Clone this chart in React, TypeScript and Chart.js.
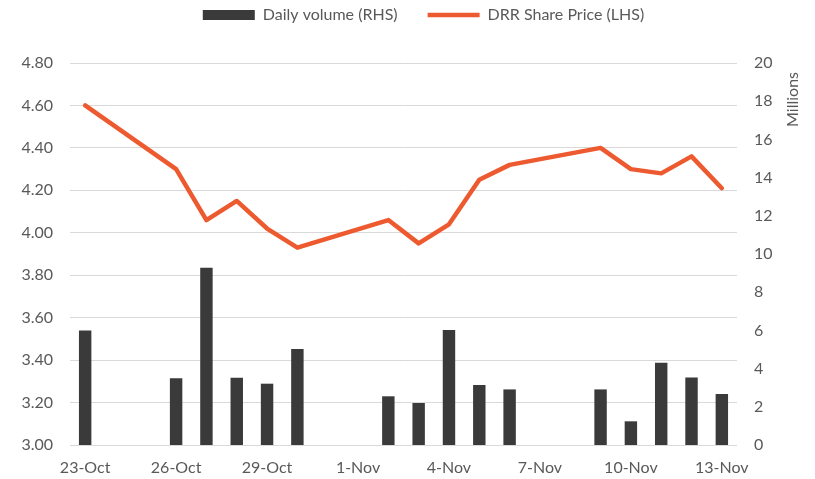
import React, { useEffect, useRef } from "react";
import { Chart, registerables } from "chart.js";

Chart.register(...registerables);

const dates = [
  "23-Oct", "24-Oct", "25-Oct", "26-Oct", "27-Oct", "28-Oct", "29-Oct", "30-Oct", "31-Oct",
  "1-Nov", "2-Nov", "3-Nov", "4-Nov", "5-Nov", "6-Nov", "7-Nov", "8-Nov", "9-Nov",
  "10-Nov", "11-Nov", "12-Nov", "13-Nov",
];
const xTickLabels = ["23-Oct", "26-Oct", "29-Oct", "1-Nov", "4-Nov", "7-Nov", "10-Nov", "13-Nov"];
const dailyVolume = [
  6.0, null, null, 3.49, 9.28, 3.52, 3.21, 5.03, null, null, 2.55, 2.2, 6.02, 3.14, 2.91,
  null, null, 2.91, 1.24, 4.31, 3.54, 2.67,
];
const sharePrice = [
  4.6, null, null, 4.3, 4.06, 4.15, 4.02, 3.93, null, null, 4.06, 3.95, 4.04, 4.25, 4.32,
  null, null, 4.4, 4.3, 4.28, 4.36, 4.21,
];
const rightAxisTitle = "Millions";

const GRAY = "#595959";
const FONT = "Lato, 'Open Sans', sans-serif";

export default function App() {
  const ref = useRef<HTMLCanvasElement>(null);
  useEffect(() => {
    document.body.style.margin = "0";
    const layoutPlugin = {
      id: "layoutTweaks",
      afterInit(chart: any) {
        const lg = chart.legend;
        if (lg) {
          const origFit = lg.fit.bind(lg);
          lg.fit = function () {
            origFit();
            this.height = 63;
          };
        }
      },
      afterLayout(chart: any) {
        const lg = chart.legend;
        if (lg) {
          const dx = 16;
          const dy = -23;
          lg.left += dx;
          lg.right += dx;
          lg.top += dy;
          lg.bottom += dy;
        }
      },
      afterDraw(chart: any) {
        const s = chart.scales.y1;
        const ctx = chart.ctx;
        ctx.save();
        ctx.fillStyle = GRAY;
        ctx.font = `16px ${FONT}`;
        ctx.translate(793, s.top + 9);
        ctx.rotate(-Math.PI / 2);
        ctx.textAlign = "right";
        ctx.textBaseline = "middle";
        ctx.fillText(rightAxisTitle, 0, 0);
        ctx.restore();
      },
    };
    const chart = new Chart(ref.current!, {
      type: "bar",
      data: {
        labels: dates,
        datasets: [
          {
            type: "line",
            label: "DRR Share Price (LHS)",
            data: sharePrice,
            yAxisID: "y",
            borderColor: "#EE5A30",
            backgroundColor: "#EE5A30",
            borderWidth: 4.5,
            borderCapStyle: "round",
            borderJoinStyle: "round",
            pointRadius: 0,
            pointStyle: "line",
            spanGaps: true,
            tension: 0,
            order: 0,
          } as any,
          {
            type: "bar",
            label: "Daily volume (RHS)",
            data: dailyVolume,
            yAxisID: "y1",
            backgroundColor: "#3A3A3A",
            borderWidth: 0,
            barPercentage: 0.41,
            categoryPercentage: 1.0,
            pointStyle: "rect",
            order: 1,
          } as any,
        ],
      },
      options: {
        animation: false,
        responsive: false,
        layout: { padding: { top: 0, left: 0, right: 0, bottom: 0 } },
        plugins: {
          tooltip: { enabled: false },
          legend: {
            position: "top",
            reverse: true,
            labels: {
              usePointStyle: true,
              pointStyleWidth: 52,
              boxHeight: 10,
              color: GRAY,
              padding: 30,
              font: { family: FONT, size: 16 },
            },
          },
        },
        scales: {
          x: {
            grid: { display: false, drawTicks: false },
            border: { display: false },
            ticks: {
              autoSkip: false,
              maxRotation: 0,
              padding: 13,
              color: GRAY,
              font: { family: FONT, size: 16 },
              callback: (_v: any, i: number) => (xTickLabels.includes(dates[i]) ? dates[i] : ""),
            },
            afterFit: (s: any) => { s.height = 34; },
          },
          y: {
            position: "left",
            min: 3.0,
            max: 4.8,
            grid: { color: "#D9D9D9", lineWidth: 1, drawTicks: false },
            border: { display: false },
            ticks: {
              stepSize: 0.2,
              padding: 17,
              color: GRAY,
              font: { family: FONT, size: 16 },
              callback: (v: any) => Number(v).toFixed(2),
            },
            afterFit: (s: any) => { s.width = 70; },
          },
          y1: {
            position: "right",
            min: 0,
            max: 20,
            grid: { display: false, drawTicks: false },
            border: { display: false },
            ticks: {
              stepSize: 2,
              padding: 17,
              color: GRAY,
              font: { family: FONT, size: 16 },
            },
            afterFit: (s: any) => { s.width = 78; },
          },
        },
      },
      plugins: [layoutPlugin],
    });
    return () => chart.destroy();
  }, []);
  return <canvas ref={ref} width={815} height={479} style={{ display: "block" }} />;
}
